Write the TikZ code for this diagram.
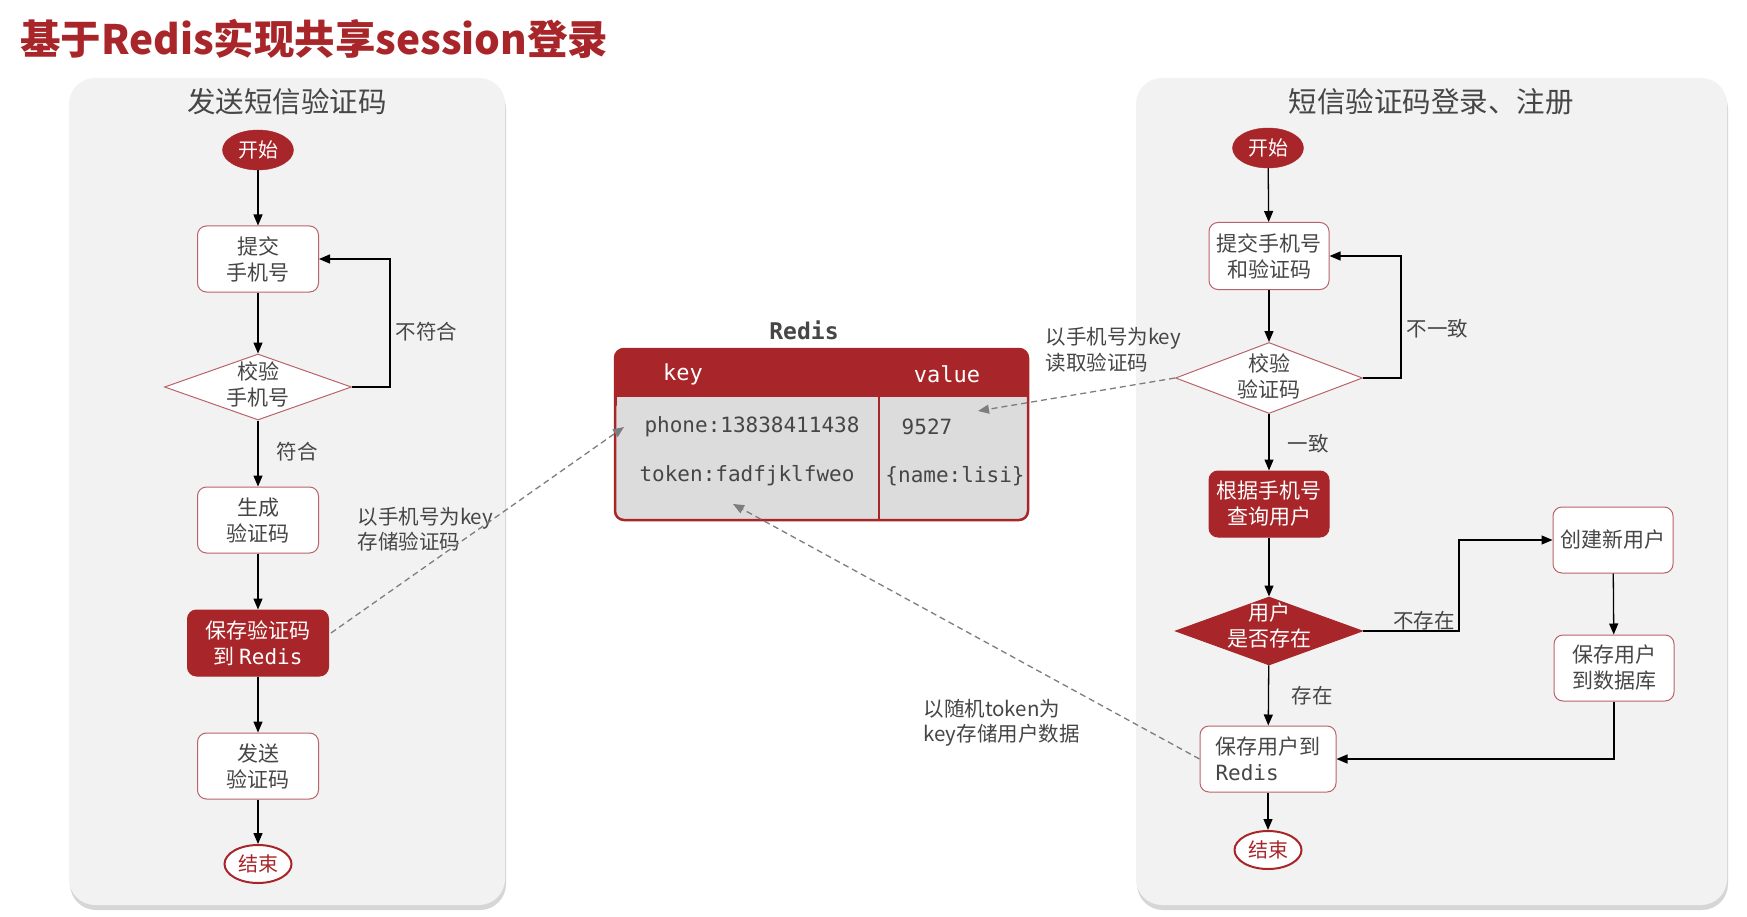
\documentclass[tikz,border=0pt]{standalone}
\usepackage{fontspec}
\setmainfont{Noto Sans CJK SC}
\setmonofont{DejaVu Sans Mono}
\usetikzlibrary{shapes.geometric,arrows.meta,shadows,calc}
\definecolor{myred}{RGB}{168,38,42}
\definecolor{boxborder}{RGB}{185,100,105}
\definecolor{panelfill}{RGB}{242,242,242}
\definecolor{tblgray}{RGB}{220,220,220}
\definecolor{txtgray}{RGB}{70,70,70}
\definecolor{dashgray}{RGB}{125,125,125}
\tikzset{
  panel/.style={fill=panelfill, rounded corners=26pt, draw=none,
    drop shadow={shadow xshift=1pt, shadow yshift=-5pt, fill=black!40, opacity=0.4}},
  txt/.style={font=\fontsize{21}{26}\selectfont, text=txtgray, align=center},
  lbl/.style={font=\fontsize{20.5}{25.5}\selectfont, text=txtgray, align=left},
  wbox/.style={txt, draw=boxborder, line width=1pt, fill=white, rounded corners=9pt,
    minimum width=121pt, minimum height=66pt, inner sep=2pt},
  rbox/.style={wbox, fill=myred, draw=myred, text=white},
  wdiam/.style={diamond, draw=boxborder, line width=1pt, fill=white, inner sep=0pt,
    minimum width=187pt, minimum height=68pt},
  rdiam/.style={wdiam, fill=myred, draw=myred},
  startnode/.style={ellipse, fill=myred, draw=myred, text=white, inner sep=0pt,
    minimum width=71pt, minimum height=40pt, font=\fontsize{20}{24}\selectfont},
  endnode/.style={ellipse, fill=white, draw=myred, line width=2pt, text=myred, inner sep=0pt,
    minimum width=67pt, minimum height=38pt, font=\fontsize{20}{24}\selectfont},
  flow/.style={draw=black, line width=1.3pt, -{Triangle[length=11pt,width=9pt]}},
  dflow/.style={draw=dashgray, line width=1.3pt, dash pattern=on 6pt off 4pt,
    -{Triangle[length=11pt,width=9pt]}},
  mono/.style={font=\fontsize{21}{25}\selectfont\ttfamily, text=txtgray},
  hmono/.style={font=\fontsize{22}{25}\selectfont\ttfamily, text=white},
}
\begin{document}
\begin{tikzpicture}[x=1pt,y=-1pt]
\useasboundingbox (0,0) rectangle (1747,917);
\fill[white] (0,0) rectangle (1747,917);

% title
\node[anchor=west, inner sep=0pt, text=myred, font=\fontsize{40.5}{46}\selectfont\bfseries] (title) at (20,39) {基于Redis实现共享session登录};

% panels
\path[panel] (69,78) rectangle (505,905);
\path[panel] (1136,78) rectangle (1727,905);
\node[txt, font=\fontsize{28.5}{32}\selectfont] (ltitle) at (287,102) {发送短信验证码};
\node[txt, font=\fontsize{28.5}{32}\selectfont] (rtitle) at (1431,102) {短信验证码登录、注册};

% ---------- left flow ----------
\node[startnode] (ls) at (258,150) {开始};
\node[wbox] (l1) at (258,259) {提交\\手机号};
\node[wdiam, minimum height=66pt, label={[txt, yshift=3pt]center:校验\\手机号}] (ld) at (258,387) {};
\node[wbox] (l2) at (258,520) {生成\\验证码};
\node[rbox, minimum width=141pt] (l3) at (258,643) {保存验证码\\到 \texttt{Redis}};
\node[wbox] (l4) at (258,766) {发送\\验证码};
\node[endnode] (le) at (258,864) {结束};

\draw[flow] (ls) -- (l1);
\draw[flow] (l1) -- (ld);
\draw[flow] (ld) -- (l2);
\draw[flow] (l2) -- (l3);
\draw[flow] (l3) -- (l4);
\draw[flow] (l4) -- (le);
\draw[flow] (ld.east) -- (390,387) |- (l1.east);
\node[lbl, anchor=west] (lnf) at (392,332) {不符合};
\node[lbl, anchor=west] (lf) at (273,452) {符合};
\node[lbl, anchor=west] (lstore) at (354,529) {以手机号为key\\存储验证码};

% ---------- Redis table ----------
\node[font=\fontsize{23}{26}\selectfont\ttfamily\bfseries, text=txtgray] (redislbl) at (804,330) {Redis};
\fill[tblgray, rounded corners=9pt] (615,349) rectangle (1028,520);
\fill[myred, rounded corners=9pt] (615,349) rectangle (1028,410);
\fill[tblgray] (616.5,397) rectangle (1026.5,412);
\draw[myred, line width=2pt] (879,397) -- (879,520);
\draw[myred, line width=2.5pt, rounded corners=9pt] (615,349) rectangle (1028,520);
\node[hmono] (rkey) at (683,374) {key};
\node[hmono] (rval) at (947,374) {value};
\node[mono] (rphone) at (752,427) {phone:13838411438};
\node[mono] (rcode) at (927,427) {9527};
\node[mono] (rtoken) at (747,476) {token:fadfjklfweo};
\node[mono] (rname) at (955,476) {\{name:lisi\}};
\coordinate (phoneIn) at (624,427);
\coordinate (codeIn) at (978,411);
\coordinate (tokenIn) at (733,504);

% ---------- right flow ----------
\node[startnode] (rs) at (1268,148) {开始};
\node[wbox, minimum width=120pt, minimum height=67pt] (r1) at (1269,256) {提交手机号\\和验证码};
\node[wdiam, minimum height=71pt, label={[txt, yshift=2pt]center:校验\\验证码}] (rd) at (1269,378) {};
\node[rbox, minimum width=120pt] (r2) at (1269,504) {根据手机号\\查询用户};
\node[rdiam, label={[txt, text=white, yshift=6pt]center:用户\\是否存在}] (rd2) at (1269,631) {};
\node[wbox, minimum width=120pt] (r3) at (1613,540) {创建新用户};
\node[wbox, minimum width=120pt] (r4) at (1614,668) {保存用户\\到数据库};
\node[wbox, minimum width=136pt, align=left] (r5) at (1268,759) {保存用户到\\\texttt{Redis}};
\node[endnode] (re) at (1268,850) {结束};

\draw[flow] (rs) -- (r1);
\draw[flow] (r1) -- (rd);
\draw[flow] (rd) -- (r2);
\draw[flow] (r2) -- (rd2);
\draw[flow] (rd2) -- (r5);
\draw[flow] (r5) -- (re);
\draw[flow] (rd.east) -- (1401,378) |- (r1.east);
\draw[flow] (rd2.east) -- (1459,631) |- (r3.west);
\draw[flow] (r3) -- (r4);
\draw[flow] (r4.south) |- (r5.east);
\node[lbl, anchor=west] (rnc) at (1403,329) {不一致};
\node[lbl, anchor=west] (rc) at (1284,444) {一致};
\node[lbl] (rne) at (1424,621) {不存在};
\node[lbl, anchor=west] (rex) at (1288,696) {存在};

% ---------- dashed connectors ----------
\draw[dflow] ($(l3.east)+(2,-10)$) -- (phoneIn);
\draw[dflow] (rd.west) -- (codeIn);
\draw[dflow] (r5.west) -- (tokenIn);
\node[lbl, anchor=west] (lread) at (1042,350) {以手机号为key\\读取验证码};
\node[lbl, anchor=west] (ltok) at (920,723) {以随机token为\\key存储用户数据};
\end{tikzpicture}
\end{document}
